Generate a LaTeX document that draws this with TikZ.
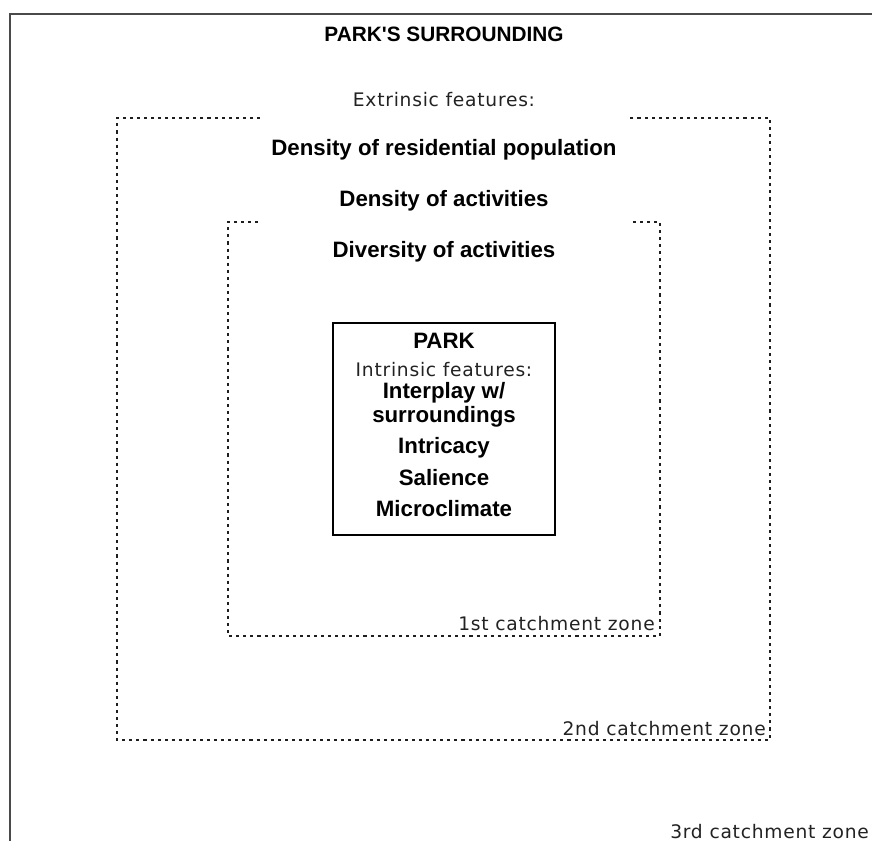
\documentclass[tikz,border=0pt]{standalone}
\usepackage{fontspec}
\setmainfont{Liberation Sans}
\newfontfamily\titlefont{Liberation Sans}
\newfontfamily\widefont[LetterSpace=4]{DejaVu Sans}
\definecolor{myline}{HTML}{1E1E1E}
\definecolor{mytext}{HTML}{222222}
\definecolor{myframe}{HTML}{4A4A4A}

\begin{document}
\begin{tikzpicture}[x=0.75pt,y=-0.75pt,
  zone/.style={draw=myline,line width=1.5pt,dash pattern=on 2.3pt off 3.0pt},
  feat/.style={font=\fontsize{16.7}{19}\selectfont\bfseries,anchor=base,inner sep=0pt},
  plain/.style={font=\widefont\fontsize{14}{17}\selectfont,text=mytext,anchor=base,inner sep=0pt}]

\useasboundingbox (0,0) rectangle (872,841);
\clip (0,0) rectangle (872,841);
\draw[myframe,line width=1.5pt] (10,14) rectangle (900,900);

\node[feat,font=\titlefont\fontsize{15.6}{18}\selectfont\bfseries] (title) at (444,42) {PARK'S SURROUNDING};
\node[plain] (extr) at (444,107) {Extrinsic features:};
\foreach \t/\y [count=\c] in {Density of residential population/156,
  Density of activities/207,Diversity of activities/258}{
  \node[feat] (ext\c) at (444,\y) {\t};
}

% catchment zones
\draw[zone] (260,118) -- (117,118) -- (117,740) -- (770,740) -- (770,118) -- (628,118);
\draw[zone] (258,222) -- (228,222) -- (228,636) -- (660,636) -- (660,222) -- (632,222);
\node[plain,anchor=base east] (zone1) at (655,631) {1st catchment zone};
\node[plain,anchor=base east] (zone2) at (766,735) {2nd catchment zone};
\node[plain,anchor=base west] (zone3) at (670,838) {3rd catchment zone};

% the park
\node[draw=black,line width=1.2pt,minimum width=166.5pt,minimum height=159pt] (park) at (444,429) {};
\node[feat] (name) at (444,349) {PARK};
\node[plain] (intr) at (444,377) {Intrinsic features:};
\node[feat] (int0a) at (444,399) {Interplay w/};
\node[feat] (int0b) at (444,423) {surroundings};
\foreach \t/\y [count=\c] in {Intricacy/454,Salience/486,Microclimate/517}{
  \node[feat] (int\c) at (444,\y) {\t};
}
\end{tikzpicture}
\end{document}
